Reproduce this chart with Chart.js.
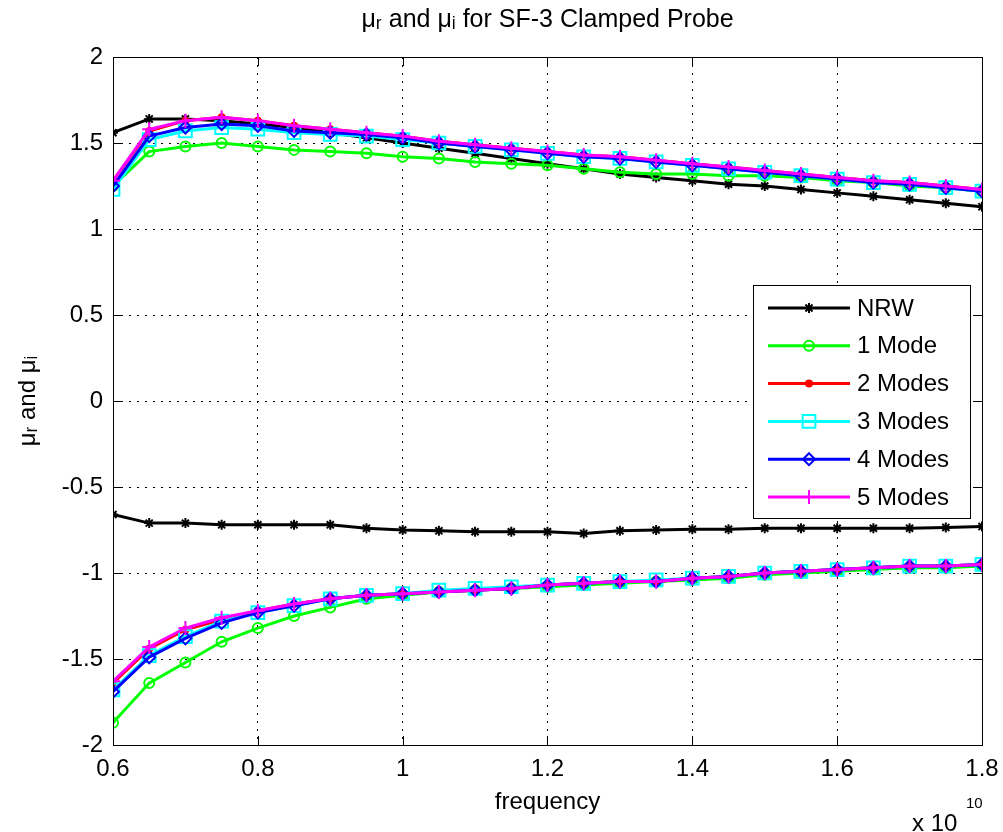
<!DOCTYPE html>
<html>
<head>
<meta charset="utf-8">
<title>μr and μi for SF-3 Clamped Probe</title>
<script src="https://cdn.jsdelivr.net/npm/chart.js@4.4.1/dist/chart.umd.min.js"></script>
<style>
  body { margin: 0; background: #fff; }
  #wrap { width: 1003px; height: 832px; }
</style>
</head>
<body>
<div id="wrap"><canvas id="myChart" width="1003" height="832"></canvas></div>
<script>
// frequency, in units of 1e10 Hz
var freq = [0.6, 0.65, 0.7, 0.75, 0.8, 0.85, 0.9, 0.95, 1.0, 1.05, 1.1, 1.15, 1.2,
            1.25, 1.3, 1.35, 1.4, 1.45, 1.5, 1.55, 1.6, 1.65, 1.7, 1.75, 1.8];

// real part (mu_r) of each method
var nrwReal   = [1.56, 1.64, 1.64, 1.63, 1.61, 1.59, 1.56, 1.53, 1.50, 1.47, 1.44, 1.41, 1.38,
                 1.35, 1.32, 1.30, 1.28, 1.26, 1.25, 1.23, 1.21, 1.19, 1.17, 1.15, 1.13];
var mode1Real = [1.25, 1.45, 1.48, 1.50, 1.48, 1.46, 1.45, 1.44, 1.42, 1.41, 1.39, 1.38, 1.37,
                 1.35, 1.33, 1.32, 1.32, 1.31, 1.31, 1.30, 1.28, 1.27, 1.25, 1.24, 1.22];
var mode2Real = [1.28, 1.57, 1.63, 1.65, 1.63, 1.60, 1.58, 1.56, 1.54, 1.51, 1.49, 1.47, 1.45,
                 1.43, 1.42, 1.40, 1.38, 1.36, 1.34, 1.32, 1.30, 1.28, 1.27, 1.25, 1.23];
var mode3Real = [1.23, 1.52, 1.57, 1.59, 1.58, 1.56, 1.55, 1.54, 1.52, 1.50, 1.48, 1.46, 1.44,
                 1.42, 1.41, 1.39, 1.37, 1.35, 1.33, 1.31, 1.29, 1.27, 1.26, 1.24, 1.22];
var mode4Real = [1.25, 1.54, 1.59, 1.61, 1.60, 1.57, 1.56, 1.55, 1.53, 1.50, 1.48, 1.46, 1.44,
                 1.42, 1.41, 1.39, 1.37, 1.35, 1.33, 1.31, 1.29, 1.27, 1.26, 1.24, 1.22];
var mode5Real = [1.28, 1.58, 1.63, 1.65, 1.63, 1.60, 1.58, 1.56, 1.54, 1.51, 1.49, 1.47, 1.45,
                 1.43, 1.42, 1.40, 1.38, 1.36, 1.34, 1.32, 1.30, 1.28, 1.27, 1.25, 1.23];

// imaginary part (mu_i)
var nrwImag   = [-0.66, -0.71, -0.71, -0.72, -0.72, -0.72, -0.72, -0.74, -0.75, -0.755, -0.76, -0.76, -0.76,
                 -0.77, -0.755, -0.75, -0.745, -0.745, -0.74, -0.74, -0.74, -0.74, -0.74, -0.735, -0.73];
var mode1Imag = [-1.87, -1.64, -1.52, -1.40, -1.32, -1.25, -1.20, -1.15, -1.13, -1.11, -1.10, -1.09, -1.08,
                 -1.07, -1.06, -1.05, -1.04, -1.03, -1.01, -1.00, -0.99, -0.98, -0.97, -0.97, -0.96];
var mode2Imag = [-1.64, -1.44, -1.33, -1.27, -1.22, -1.18, -1.15, -1.13, -1.12, -1.11, -1.10, -1.09, -1.07,
                 -1.06, -1.05, -1.05, -1.03, -1.02, -1.00, -0.99, -0.98, -0.97, -0.96, -0.96, -0.95];
var mode3Imag = [-1.68, -1.48, -1.37, -1.28, -1.23, -1.19, -1.15, -1.13, -1.12, -1.10, -1.09, -1.08, -1.07,
                 -1.06, -1.05, -1.04, -1.03, -1.02, -1.00, -0.99, -0.98, -0.97, -0.96, -0.96, -0.95];
var mode4Imag = [-1.69, -1.49, -1.38, -1.29, -1.23, -1.19, -1.15, -1.13, -1.12, -1.11, -1.10, -1.09, -1.07,
                 -1.06, -1.05, -1.05, -1.03, -1.02, -1.00, -0.99, -0.98, -0.97, -0.96, -0.96, -0.95];
var mode5Imag = [-1.63, -1.43, -1.32, -1.26, -1.22, -1.18, -1.15, -1.13, -1.12, -1.11, -1.10, -1.09, -1.07,
                 -1.06, -1.05, -1.05, -1.03, -1.02, -1.00, -0.99, -0.98, -0.97, -0.96, -0.96, -0.95];

var seriesNames = ["NRW", "1 Mode", "2 Modes", "3 Modes", "4 Modes", "5 Modes"];
var xTicks = [0.6, 0.8, 1, 1.2, 1.4, 1.6, 1.8];
var yTicks = [-2, -1.5, -1, -0.5, 0, 0.5, 1, 1.5, 2];

var FONT = "'Liberation Sans', Arial, sans-serif";

// marker style for each series (matlab: * o . s d +)
var styles = [
  { color: "#000000", point: "star",    radius: 5, fill: false },
  { color: "#00ff00", point: "circle",  radius: 5, fill: false },
  { color: "#ff0000", point: "circle",  radius: 3, fill: true  },
  { color: "#00ffff", point: "rect",    radius: 9, fill: false },
  { color: "#0000ff", point: "rectRot", radius: 6, fill: false },
  { color: "#ff00ff", point: "cross",   radius: 7, fill: false }
];

function pts(arr) {
  return arr.map(function (v, i) { return { x: freq[i], y: v }; });
}

function makeSet(i, arr, part) {
  var s = styles[i];
  return {
    label: seriesNames[i] + part,
    data: pts(arr),
    borderColor: s.color,
    backgroundColor: s.fill ? s.color : "rgba(0,0,0,0)",
    borderWidth: 3,
    pointStyle: s.point,
    pointRadius: s.radius,
    pointBorderWidth: 2,
    pointBorderColor: s.color,
    pointBackgroundColor: s.fill ? s.color : "rgba(0,0,0,0)",
    tension: 0,
    fill: false,
    order: 6 - i   // later series drawn on top
  };
}

var reals = [nrwReal, mode1Real, mode2Real, mode3Real, mode4Real, mode5Real];
var imags = [nrwImag, mode1Imag, mode2Imag, mode3Imag, mode4Imag, mode5Imag];
var datasets = [];
for (var i = 0; i < 6; i++) {
  datasets.push(makeSet(i, reals[i], ""));
  datasets.push(makeSet(i, imags[i], " (imag)"));
}

// white background + box + inward ticks
var frame = {
  id: "frame",
  beforeDraw: function (chart) {
    var ctx = chart.ctx;
    ctx.save();
    ctx.fillStyle = "#fff";
    ctx.fillRect(0, 0, chart.width, chart.height);
    ctx.restore();
  },
  afterDatasetsDraw: function (chart) {
    var ctx = chart.ctx, a = chart.chartArea;
    var xs = chart.scales.x, ys = chart.scales.y;
    ctx.save();
    ctx.strokeStyle = "#000";
    ctx.lineWidth = 1;
    ctx.setLineDash([]);
    ctx.strokeRect(Math.round(a.left) + 0.5, Math.round(a.top) + 0.5,
      Math.round(a.right - a.left), Math.round(a.bottom - a.top));
    ctx.beginPath();
    xTicks.forEach(function (t) {
      var px = Math.round(xs.getPixelForValue(t)) + 0.5;
      ctx.moveTo(px, a.bottom); ctx.lineTo(px, a.bottom - 9);
      ctx.moveTo(px, a.top); ctx.lineTo(px, a.top + 9);
    });
    yTicks.forEach(function (t) {
      var py = Math.round(ys.getPixelForValue(t)) + 0.5;
      ctx.moveTo(a.left, py); ctx.lineTo(a.left + 9, py);
      ctx.moveTo(a.right, py); ctx.lineTo(a.right - 9, py);
    });
    ctx.stroke();
    ctx.restore();
  },
  afterDraw: function (chart) {
    // the "x 10^10" exponent under the x axis
    var ctx = chart.ctx, a = chart.chartArea;
    ctx.save();
    ctx.fillStyle = "#000";
    ctx.textAlign = "left";
    ctx.textBaseline = "alphabetic";
    ctx.font = "24px " + FONT;
    ctx.fillText("x 10", a.right - 70, a.bottom + 86);
    ctx.font = "15px " + FONT;
    ctx.fillText("10", a.right - 16, a.bottom + 63);
    ctx.restore();
  }
};

// legend box inside the axes, like matlab
var boxLegend = {
  id: "boxLegend",
  afterDraw: function (chart) {
    var ctx = chart.ctx, a = chart.chartArea;
    var left = a.right - 229, top = a.top + 228, w = 217, h = 233;
    ctx.save();
    ctx.fillStyle = "#fff";
    ctx.fillRect(left, top, w, h);
    ctx.strokeStyle = "#000";
    ctx.lineWidth = 1;
    ctx.strokeRect(left + 0.5, top + 0.5, w, h);
    ctx.font = "24px " + FONT;
    ctx.textBaseline = "middle";
    for (var i = 0; i < seriesNames.length; i++) {
      var s = styles[i];
      var y = top + 23 + i * 37.8;
      ctx.strokeStyle = s.color;
      ctx.lineWidth = 3;
      ctx.beginPath();
      ctx.moveTo(left + 15, y);
      ctx.lineTo(left + 97, y);
      ctx.stroke();
      ctx.lineWidth = 2;
      ctx.fillStyle = s.fill ? s.color : "rgba(0,0,0,0)";
      Chart.helpers.drawPoint(ctx, { pointStyle: s.point, radius: s.radius, borderWidth: 2, rotation: 0 },
        left + 56, y);
      ctx.fillStyle = "#000";
      ctx.fillText(seriesNames[i], left + 104, y + 1);
    }
    ctx.restore();
  }
};

var ctx = document.getElementById("myChart").getContext("2d");
var myChart = new Chart(ctx, {
  type: "line",
  data: { datasets: datasets },
  plugins: [frame, boxLegend],
  options: {
    responsive: false,
    animation: false,
    layout: { padding: { left: 0, right: 21, top: 0, bottom: 0 } },
    plugins: {
      legend: { display: false },
      tooltip: { enabled: false },
      title: {
        display: true,
        fullSize: false,
        text: "μᵣ and μᵢ for SF-3 Clamped Probe",
        color: "#000",
        font: { family: FONT, size: 25, weight: "normal", lineHeight: 1.2 },
        padding: { top: 5, bottom: 22 }
      }
    },
    scales: {
      x: {
        type: "linear",
        min: 0.6,
        max: 1.8,
        afterFit: function (scale) {
          scale.height = 87;
          scale.paddingLeft = 0;
          scale.paddingRight = 0;
        },
        afterBuildTicks: function (scale) {
          scale.ticks = xTicks.map(function (v) { return { value: v }; });
        },
        ticks: {
          color: "#000",
          padding: 10,
          maxRotation: 0,
          font: { family: FONT, size: 24 },
          callback: function (v) { return String(parseFloat(v.toFixed(2))); }
        },
        grid: { color: "#000", lineWidth: 1, drawTicks: false },
        border: { display: false, dash: [2, 6] },
        title: {
          display: true,
          text: "frequency",
          color: "#000",
          font: { family: FONT, size: 24 },
          padding: { top: 0, bottom: 15 }
        }
      },
      y: {
        min: -2,
        max: 2,
        afterFit: function (scale) { scale.width = 113; },
        afterBuildTicks: function (scale) {
          scale.ticks = yTicks.map(function (v) { return { value: v }; });
        },
        ticks: {
          color: "#000",
          padding: 10,
          font: { family: FONT, size: 24 },
          callback: function (v) { return String(v); }
        },
        grid: { color: "#000", lineWidth: 1, drawTicks: false },
        border: { display: false, dash: [2, 6] },
        title: {
          display: true,
          text: "μᵣ and μᵢ",
          color: "#000",
          font: { family: FONT, size: 24 },
          padding: { top: 14, bottom: 0 }
        }
      }
    }
  }
});
</script>
</body>
</html>
